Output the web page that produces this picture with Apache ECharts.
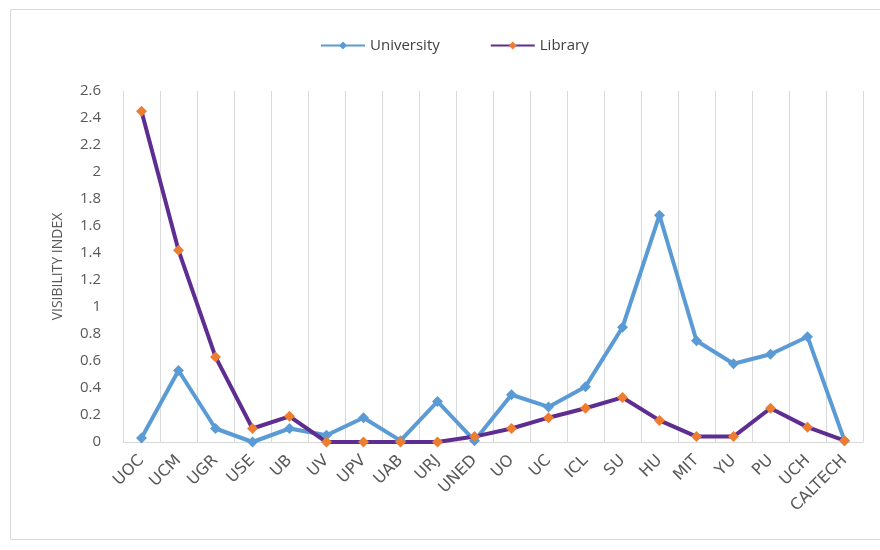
<!DOCTYPE html>
<html>
<head>
<meta charset="utf-8">
<title>Visibility index</title>
<script src="https://cdn.jsdelivr.net/npm/echarts@6/dist/echarts.min.js"></script>
<style>
  html, body { margin: 0; padding: 0; background: #fff; }
  #main { width: 880px; height: 550px; }
</style>
</head>
<body>
<div id="main"></div>
<script>
// categories on the x axis
var institutions = ['UOC', 'UCM', 'UGR', 'USE', 'UB', 'UV', 'UPV', 'UAB', 'URJ', 'UNED',
                    'UO', 'UC', 'ICL', 'SU', 'HU', 'MIT', 'YU', 'PU', 'UCH', 'CALTECH'];
// visibility index values
var university = [0.03, 0.53, 0.10, 0.00, 0.10, 0.05, 0.18, 0.01, 0.30, 0.01,
                  0.35, 0.26, 0.41, 0.85, 1.68, 0.75, 0.58, 0.65, 0.78, 0.01];
var library    = [2.45, 1.42, 0.63, 0.10, 0.19, 0.00, 0.00, 0.00, 0.00, 0.04,
                  0.10, 0.18, 0.25, 0.33, 0.16, 0.04, 0.04, 0.25, 0.11, 0.01];

var font = 'Open Sans';
var chart = echarts.init(document.getElementById('main'));

chart.setOption({
    animation: false,
    textStyle: { fontFamily: font },
    graphic: [{
        type: 'rect',
        shape: { x: 10.5, y: 9.5, width: 900, height: 530 },
        style: { fill: 'none', stroke: '#d9d9d9', lineWidth: 1 },
        silent: true
    }],
    legend: {
        top: 33,
        left: 315,
        itemGap: 50,
        itemWidth: 44,
        itemHeight: 10,
        textStyle: { fontSize: 15, color: '#404040', fontFamily: font },
        data: ['University', 'Library']
    },
    grid: { left: 123, right: 17, top: 91, bottom: 108 },
    xAxis: {
        type: 'category',
        data: institutions,
        boundaryGap: true,
        axisLine: { lineStyle: { color: '#d9d9d9' } },
        axisTick: { show: false },
        splitLine: { show: true, interval: 0, lineStyle: { color: '#d9d9d9' } },
        axisLabel: {
            interval: 0, rotate: 45, fontSize: 16, color: '#595959', margin: 16,
            fontFamily: 'DejaVu Sans'
        }
    },
    yAxis: {
        type: 'value',
        min: 0,
        max: 2.6,
        interval: 0.2,
        name: 'VISIBILITY INDEX',
        nameLocation: 'middle',
        nameRotate: 90,
        nameGap: 58,
        nameTextStyle: { fontSize: 14, color: '#595959' },
        axisLine: { show: false },
        axisTick: { show: false },
        splitLine: { show: false },
        axisLabel: { fontSize: 15, color: '#595959', margin: 22 }
    },
    series: [{
        name: 'University',
        type: 'line',
        data: university,
        symbol: 'diamond',
        symbolSize: 11,
        lineStyle: { width: 4, color: '#5b9bd5' },
        itemStyle: { color: '#5b9bd5' }
    }, {
        name: 'Library',
        type: 'line',
        data: library,
        symbol: 'diamond',
        symbolSize: 11,
        lineStyle: { width: 4, color: '#5e2d91' },
        itemStyle: { color: '#ed7d31' }
    }]
});
</script>
</body>
</html>
